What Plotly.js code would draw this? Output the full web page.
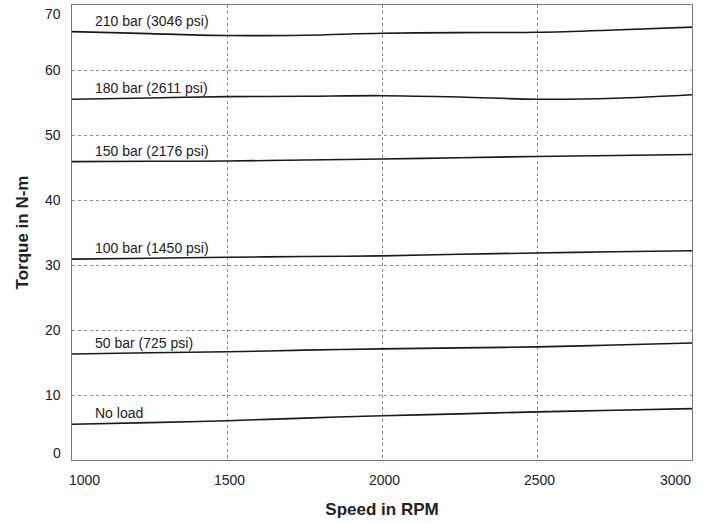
<!DOCTYPE html>
<html>
<head>
<meta charset="utf-8">
<script src="https://cdn.plot.ly/plotly-3.0.1.min.js"></script>
<style>html,body{margin:0;padding:0;background:#fff}#chart{width:707px;height:524px}</style>
</head>
<body>
<div id="chart"></div>
<script>
// Speed in RPM sample points
const speedRPM = [1000, 1250, 1500, 1750, 2000, 2250, 2500, 2750, 3000];

// Torque (N-m) per load curve
const torque210 = [65.9, 65.6, 65.3, 65.35, 65.65, 65.75, 65.8, 66.15, 66.6];
const torque180 = [55.5, 55.7, 55.9, 55.95, 56.05, 55.85, 55.5, 55.65, 56.2];
const torque150 = [45.9, 45.95, 46.0, 46.15, 46.3, 46.5, 46.7, 46.85, 47.0];
const torque100 = [30.9, 31.05, 31.2, 31.3, 31.4, 31.65, 31.85, 32.05, 32.2];
const torque50  = [16.3, 16.5, 16.65, 16.9, 17.1, 17.25, 17.4, 17.7, 18.0];
const torqueNoLoad = [5.5, 5.75, 6.05, 6.45, 6.8, 7.1, 7.4, 7.65, 7.9];

const seriesNames = ["210 bar (3046 psi)", "180 bar (2611 psi)", "150 bar (2176 psi)",
                     "100 bar (1450 psi)", "50 bar (725 psi)", "No load"];
const seriesValues = [torque210, torque180, torque150, torque100, torque50, torqueNoLoad];

const xTickVals = [1000, 1500, 2000, 2500, 3000];
const xTickText = ["1000", "1500", "2000", "2500", "3000"];
const yTickVals = [0, 10, 20, 30, 40, 50, 60, 70];
const yTickText = ["0", "10", "20", "30", "40", "50", "60", "70"];

const labelSpeed = 1068;

const narrow = '"Liberation Sans", Arial, sans-serif';
const boldFont = '"Liberation Sans", Arial, sans-serif';

const traces = seriesValues.map((vals, i) => ({
  type: 'scatter', mode: 'lines', x: speedRPM, y: vals, name: seriesNames[i],
  line: {color: '#1a1a1a', width: 1.6, shape: 'spline', smoothing: 1},
  hoverinfo: 'skip', showlegend: false
}));

const annotations = seriesValues.map((vals, i) => ({
  x: labelSpeed, y: vals[0], xref: 'x', yref: 'y', text: seriesNames[i],
  showarrow: false, xanchor: 'left', yanchor: 'bottom', yshift: 1,
  font: {family: narrow, size: 14, color: '#222'}
}));

xTickVals.forEach((v, i) => {
  const last = i === xTickVals.length - 1;
  annotations.push({
    x: v, y: 0, xref: 'x', yref: 'paper', text: xTickText[i], showarrow: false,
    xanchor: i === 0 ? 'left' : (last ? 'right' : 'center'),
    xshift: i === 0 ? -5 : (last ? 1 : 2),
    yanchor: 'top', yshift: -10,
    font: {family: narrow, size: 14, color: '#222'}
  });
});

// y tick labels as annotations so the end labels stay inside the frame height
yTickVals.forEach((v, i) => {
  const last = i === yTickVals.length - 1;
  annotations.push({
    x: 0, y: v, xref: 'paper', yref: 'y', text: yTickText[i], showarrow: false,
    xanchor: 'right', xshift: -9,
    yanchor: last ? 'top' : (i === 0 ? 'bottom' : 'middle'),
    yshift: last ? 1 : (i === 0 ? -3 : 0),
    font: {family: narrow, size: 14, color: '#222'}
  });
});

const layout = {
  width: 707, height: 524,
  margin: {l: 72, r: 15, t: 5, b: 64},
  paper_bgcolor: '#fff', plot_bgcolor: '#fff',
  xaxis: {
    range: [1000, 3000], tickvals: xTickVals, showticklabels: false,
    showgrid: true, gridcolor: '#8a8a8a', gridwidth: 1, griddash: '3px,3px',
    showline: true, linecolor: '#7a7a7a', linewidth: 1.2, mirror: true,
    zeroline: false, ticks: '',
    title: {text: 'Speed in RPM', font: {family: boldFont, size: 17, color: '#222', weight: 'bold'}, standoff: 42}
  },
  yaxis: {
    range: [0, 70], tickvals: yTickVals, showticklabels: false,
    showgrid: true, gridcolor: '#8a8a8a', gridwidth: 1, griddash: '3px,3px',
    showline: true, linecolor: '#7a7a7a', linewidth: 1.2, mirror: true,
    zeroline: false, ticks: '',
    title: {text: 'Torque in N-m', font: {family: boldFont, size: 17, color: '#222', weight: 'bold'}, standoff: 37}
  },
  annotations: annotations
};

Plotly.newPlot('chart', traces, layout, {staticPlot: true, displayModeBar: false});
</script>
</body>
</html>
